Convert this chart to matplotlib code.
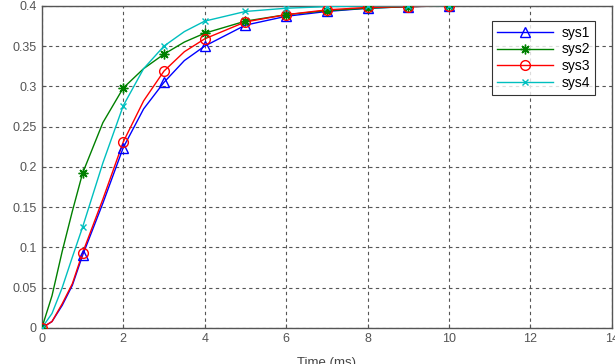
import matplotlib
matplotlib.use("Agg")
import matplotlib.pyplot as plt

# marker samples (integer times)
t_mark = [0, 1, 2, 3, 4, 5, 6, 7, 8, 9, 10]
sys1_mark = [0, 0.090, 0.224, 0.305, 0.350, 0.376, 0.387, 0.393, 0.397, 0.399, 0.400]
sys2_mark = [0, 0.192, 0.298, 0.340, 0.366, 0.381, 0.389, 0.394, 0.397, 0.399, 0.400]
sys3_mark = [0, 0.093, 0.231, 0.319, 0.359, 0.380, 0.389, 0.395, 0.398, 0.399, 0.400]
sys4_mark = [0, 0.125, 0.276, 0.350, 0.381, 0.393, 0.397, 0.399, 0.400, 0.400, 0.400]

# line samples
t_line = [0, 0.25, 0.5, 0.75, 1, 1.5, 2, 2.5, 3, 3.5, 4, 5, 6, 7, 8, 9, 10]
sys1_line = [0, 0.008, 0.028, 0.053, 0.090, 0.155, 0.224, 0.272, 0.305, 0.332, 0.350, 0.376, 0.387, 0.393, 0.397, 0.399, 0.400]
sys2_line = [0, 0.040, 0.095, 0.145, 0.192, 0.255, 0.298, 0.322, 0.340, 0.355, 0.366, 0.381, 0.389, 0.394, 0.397, 0.399, 0.400]
sys3_line = [0, 0.008, 0.030, 0.055, 0.093, 0.160, 0.231, 0.282, 0.319, 0.343, 0.359, 0.380, 0.389, 0.395, 0.398, 0.399, 0.400]
sys4_line = [0, 0.018, 0.050, 0.088, 0.125, 0.205, 0.276, 0.322, 0.350, 0.368, 0.381, 0.393, 0.397, 0.399, 0.400, 0.400, 0.400]

names = ["sys1", "sys2", "sys3", "sys4"]
colors = ["#0000ff", "#008000", "#ff0000", "#00bfbf"]
markers = ["^", (8, 2, 0), "o", "x"]
sizes = [7, 7, 7, 4.5]
filled = [False, True, False, True]

xticks = [0, 2, 4, 6, 8, 10, 12, 14]
yticks = [0, 0.05, 0.1, 0.15, 0.2, 0.25, 0.3, 0.35, 0.4]
ytick_labels = ["0", "0.05", "0.1", "0.15", "0.2", "0.25", "0.3", "0.35", "0.4"]

plt.rcParams['font.family'] = ['Liberation Sans', 'DejaVu Sans']

fig = plt.figure(figsize=(6.15, 3.64), dpi=100)
ax = fig.add_axes([0.068, 0.099, 0.927, 0.885])

marks = [sys1_mark, sys2_mark, sys3_mark, sys4_mark]
lines = [sys1_line, sys2_line, sys3_line, sys4_line]
handles = []
for name, c, m, ms, f, ym, yl in zip(names, colors, markers, sizes, filled, marks, lines):
    ax.plot(t_line, yl, color=c, lw=1.0, zorder=3)
    mfc = c if f else "none"
    ax.plot(t_mark, ym, linestyle="none", marker=m, color=c, mfc=mfc,
            ms=ms, mew=1.0, zorder=4)
    h, = ax.plot([], [], color=c, lw=1.0, marker=m, mfc=mfc, ms=ms, mew=1.0, label=name)
    handles.append(h)

ax.set_xlim(0, 14)
ax.set_ylim(0, 0.4)
ax.set_xticks(xticks)
ax.set_yticks(yticks)
ax.set_yticklabels(ytick_labels)
ax.grid(True, color="#555555", linestyle=(0, (3, 3)), lw=0.8)
ax.tick_params(axis="both", labelsize=9, colors="#555555", length=3, direction="in")
for s in ax.spines.values():
    s.set_color("#555555")
    s.set_linewidth(1.0)

ax.set_xlabel("Time (ms)", fontsize=9.5, color="#444444", labelpad=9)

leg = ax.legend(handles=handles, loc="upper right", bbox_to_anchor=(0.982, 0.975),
                fontsize=10, frameon=True, fancybox=False, edgecolor="black",
                handlelength=4.0, borderpad=0.35, labelspacing=0.2, handletextpad=0.6)
leg.get_frame().set_linewidth(0.8)

fig.savefig("out.png", dpi=100)
